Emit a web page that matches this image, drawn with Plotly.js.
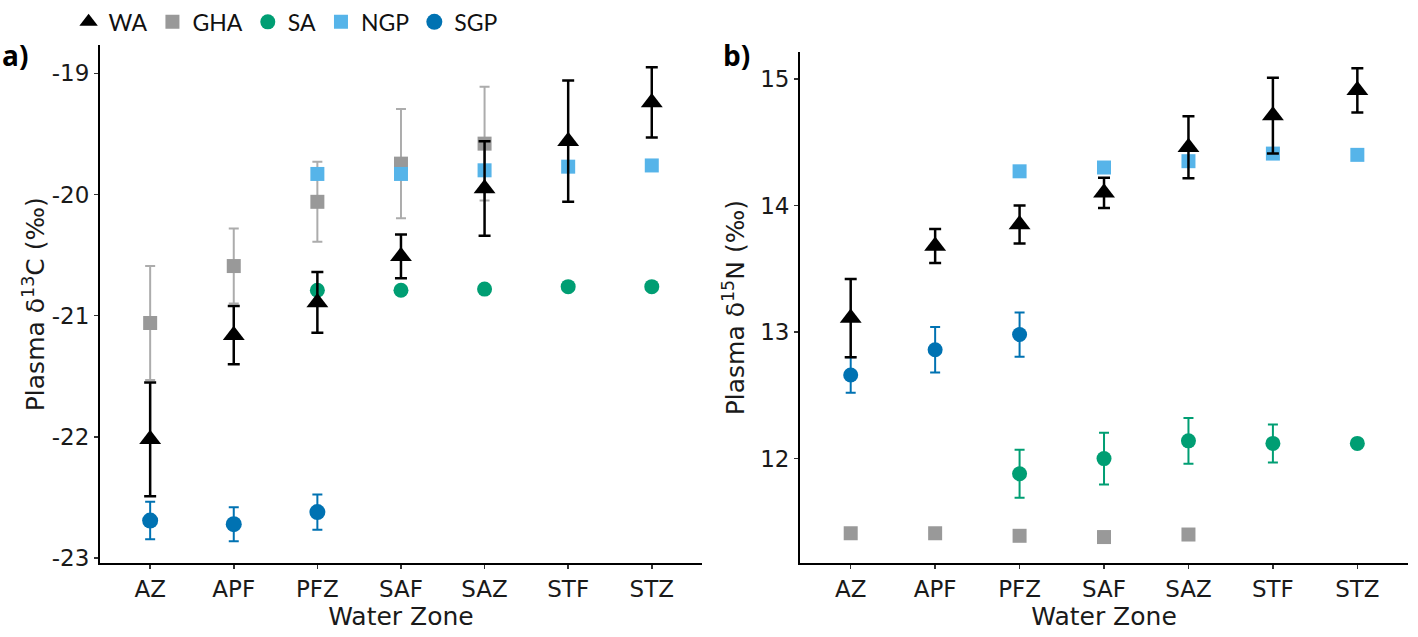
<!DOCTYPE html>
<html>
<head>
<meta charset="utf-8">
<script src="https://cdn.plot.ly/plotly-3.0.1.min.js"></script>
<style>
  html, body { margin: 0; padding: 0; background: #ffffff; }
  #chart { width: 1418px; height: 637px; }
</style>
</head>
<body>
<div id="chart"></div>
<script>
// Categories
const zones = ['AZ', 'APF', 'PFZ', 'SAF', 'SAZ', 'STF', 'STZ'];

// Panel a: plasma d13C (mean and error)
const waC = [-22.02, -21.16, -20.89, -20.51, -19.95, -19.56, -19.24];
const waCErr = [0.47, 0.24, 0.25, 0.18, 0.39, 0.50, 0.29];
const ghaC = [-21.06, -20.59, -20.06, -19.745, -19.58, null, null];
const ghaCErr = [0.47, 0.31, 0.33, 0.45, 0.47, null, null];
const saC = [null, null, -20.79, -20.79, -20.78, -20.76, -20.76];
const ngpC = [null, null, -19.83, -19.83, -19.80, -19.77, -19.76];
const sgpC = [-22.69, -22.72, -22.62, null, null, null, null];
const sgpCErr = [0.155, 0.14, 0.145, null, null, null, null];

// Panel b: plasma d15N (mean and error)
const waN = [13.11, 13.68, 13.85, 14.10, 14.46, 14.71, 14.91];
const waNErr = [0.31, 0.135, 0.15, 0.12, 0.245, 0.30, 0.175];
const ghaN = [11.41, 11.41, 11.39, 11.38, 11.40, null, null];
const saN = [null, null, 11.88, 12.00, 12.14, 12.12, 12.12];
const saNErr = [null, null, 0.19, 0.205, 0.18, 0.15, 0];
const ngpN = [null, null, 14.27, 14.30, 14.35, 14.41, 14.40];
const sgpN = [12.66, 12.86, 12.98, null, null, null, null];
const sgpNErr = [0.14, 0.18, 0.175, null, null, null, null];

// Tick values
const tickA = [-23, -22, -21, -20, -19];
const tickB = [12, 13, 14, 15];

const C = { WA: '#000000', GHA: '#999999', SA: '#009E73', NGP: '#56B4E9', SGP: '#0072B2' };

function tr(name, x, y, err, color, symbol, size, xa, ya, showleg, rank, errColor, errThick, errW) {
  const t = {
    type: 'scatter', mode: 'markers', name: name, x: x, y: y,
    xaxis: xa, yaxis: ya, showlegend: showleg, legendrank: rank, legendgroup: name,
    marker: { color: color, symbol: symbol, size: size, line: { width: 0 } },
    cliponaxis: false
  };
  if (err) {
    t.error_y = { type: 'data', array: err, visible: true, color: errColor || color, thickness: errThick || 2, width: errW || 5 };
  }
  return t;
}

const data = [
  // Panel a
  tr('GHA', zones, ghaC, ghaCErr, C.GHA, 'square', 14, 'x', 'y', true, 2, '#acacac', 2, 5),
  tr('NGP', zones, ngpC, null, C.NGP, 'square', 14, 'x', 'y', true, 4),
  tr('SA', zones, saC, null, C.SA, 'circle', 15, 'x', 'y', true, 3),
  tr('SGP', zones, sgpC, sgpCErr, C.SGP, 'circle', 16, 'x', 'y', true, 5, C.SGP, 2, 5),
  tr('WA', zones, waC, waCErr, C.WA, 'triangle-up', 19, 'x', 'y', true, 1, C.WA, 2.5, 6),
  // Panel b
  tr('GHA', zones, ghaN, null, C.GHA, 'square', 14, 'x2', 'y2', false, 2),
  tr('NGP', zones, ngpN, null, C.NGP, 'square', 14, 'x2', 'y2', false, 4),
  tr('SA', zones, saN, saNErr, C.SA, 'circle', 15, 'x2', 'y2', false, 3, C.SA, 2, 5),
  tr('SGP', zones, sgpN, sgpNErr, C.SGP, 'circle', 15, 'x2', 'y2', false, 5, C.SGP, 2, 5),
  tr('WA', zones, waN, waNErr, C.WA, 'triangle-up', 19, 'x2', 'y2', false, 1, C.WA, 2.5, 6)
];

const tickFont = { family: 'DejaVu Sans, sans-serif', size: 23, color: '#1a1a1a' };
const titleFont = { family: 'DejaVu Sans, sans-serif', size: 25, color: '#1a1a1a' };

function xAxis(domain) {
  return {
    domain: domain, type: 'category', categoryorder: 'array', categoryarray: zones,
    range: [-0.6, 6.6], showgrid: false, zeroline: false,
    showline: true, linecolor: '#000000', linewidth: 2,
    ticks: 'outside', ticklen: 4, tickwidth: 1.5, tickcolor: '#333333',
    tickfont: tickFont, fixedrange: true,
    title: { text: 'Water Zone', font: titleFont, standoff: 4 }
  };
}

const layout = {
  width: 1418, height: 637,
  paper_bgcolor: '#ffffff', plot_bgcolor: '#ffffff',
  margin: { l: 100, r: 10, t: 0, b: 74 },
  showlegend: true,
  legend: {
    orientation: 'h', x: -0.024, xanchor: 'left', y: 0.975, yanchor: 'middle',
    font: { family: 'Lato, sans-serif', size: 23, color: '#111111' },
    itemsizing: 'trace', traceorder: 'normal', bgcolor: 'rgba(0,0,0,0)'
  },
  xaxis: xAxis([0, 0.4602]),
  xaxis2: Object.assign(xAxis([0.5352, 1]), { anchor: 'y2' }),
  yaxis: {
    domain: [0, 0.9325], range: [-23.04, -18.77], tickvals: tickA, ticktext: tickA.map(String),
    showgrid: false, zeroline: false, showline: true, linecolor: '#000000', linewidth: 2,
    ticks: 'outside', ticklen: 4, tickwidth: 1.5, tickcolor: '#333333',
    tickfont: tickFont, fixedrange: true, anchor: 'x',
    title: { text: 'Plasma δ<sup>13</sup>C (‰)', font: titleFont, standoff: 0 }
  },
  yaxis2: {
    domain: [0, 0.9201], range: [11.175, 15.21], tickvals: tickB, ticktext: tickB.map(String),
    showgrid: false, zeroline: false, showline: true, linecolor: '#000000', linewidth: 2,
    ticks: 'outside', ticklen: 4, tickwidth: 1.5, tickcolor: '#333333',
    tickfont: tickFont, fixedrange: true, anchor: 'x2',
    title: { text: 'Plasma δ<sup>15</sup>N (‰)', font: titleFont, standoff: 8 }
  },
  annotations: [
    { text: '<b>a)</b>', xref: 'paper', yref: 'paper', x: -0.0765, y: 0.915, xanchor: 'left', yanchor: 'middle',
      showarrow: false, font: { family: 'Open Sans, sans-serif', size: 28, color: '#000000' } },
    { text: '<b>b)</b>', xref: 'paper', yref: 'paper', x: 0.4745, y: 0.915, xanchor: 'left', yanchor: 'middle',
      showarrow: false, font: { family: 'Open Sans, sans-serif', size: 28, color: '#000000' } }
  ]
};

Plotly.newPlot('chart', data, layout, { staticPlot: true, displayModeBar: false });
</script>
</body>
</html>
